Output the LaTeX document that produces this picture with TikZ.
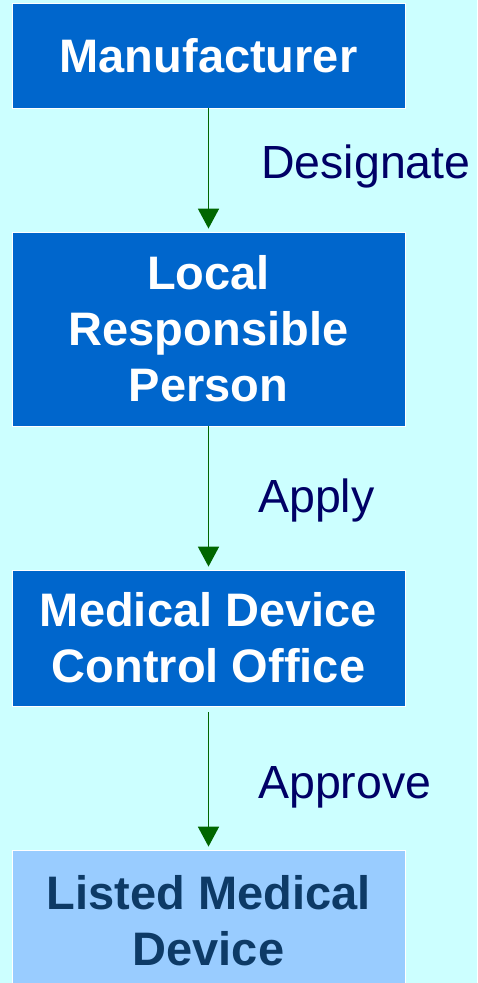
\documentclass[tikz,border=0pt]{standalone}
\usepackage{fontspec}
\setmainfont{Liberation Sans}
\usetikzlibrary{arrows.meta,positioning}
\definecolor{bgcyan}{HTML}{CCFFFF}
\definecolor{boxblue}{HTML}{0066CC}
\definecolor{lightblue}{HTML}{99CCFF}
\definecolor{darknavy}{HTML}{0D3A66}
\definecolor{labelnavy}{HTML}{000066}
\definecolor{arrowgreen}{HTML}{006600}
\tikzset{
	boxnode/.style={draw=white, line width=0.8pt, fill=boxblue, text=white, font=\fontsize{47}{56}\selectfont\bfseries, align=center, minimum width=393pt, inner sep=0pt},
	lastbox/.style={boxnode, fill=lightblue, text=darknavy},
	flowarrow/.style={draw=arrowgreen, line width=1.8pt, -{Triangle[width=21pt,length=20pt]}},
	steplabel/.style={text=labelnavy, font=\fontsize{46.5}{55}\selectfont, anchor=base west, inner sep=0pt}
}
\begin{document}
\begin{tikzpicture}[x=1pt,y=1pt]
		%%%%% START %%%%%
		
		\fill[bgcyan] (0,0) rectangle (477,-983);
		\useasboundingbox (0,0) rectangle (477,-983);
		
		\node[boxnode, minimum height=105pt] (manuf) at (208.5,-55.5) {Manufacturer};
		\node[boxnode, minimum height=194pt] (lrp) at (208.5,-329) {Local\\Responsible\\Person};
		\node[boxnode, minimum height=136pt] (mdco) at (208.5,-638) {Medical Device\\Control Office};
		\node[lastbox, minimum height=150pt] (lmd) at (208.5,-925) {Listed Medical\\Device\vphantom{g}};
		
		\draw[flowarrow] (manuf.south) -- ([yshift=3pt]lrp.north);
		\draw[flowarrow] (lrp.south) -- ([yshift=3pt]mdco.north);
		\draw[flowarrow, shorten <=6pt] (mdco.south) -- ([yshift=3pt]lmd.north);
		
		\node[steplabel] (designate) at (261,-178) {Designate};
		\node[steplabel] (apply) at (258,-512) {Apply};
		\node[steplabel] (approve) at (258,-798) {Approve};
		
		%%%%% END %%%%%
	\end{tikzpicture}
\end{document}
